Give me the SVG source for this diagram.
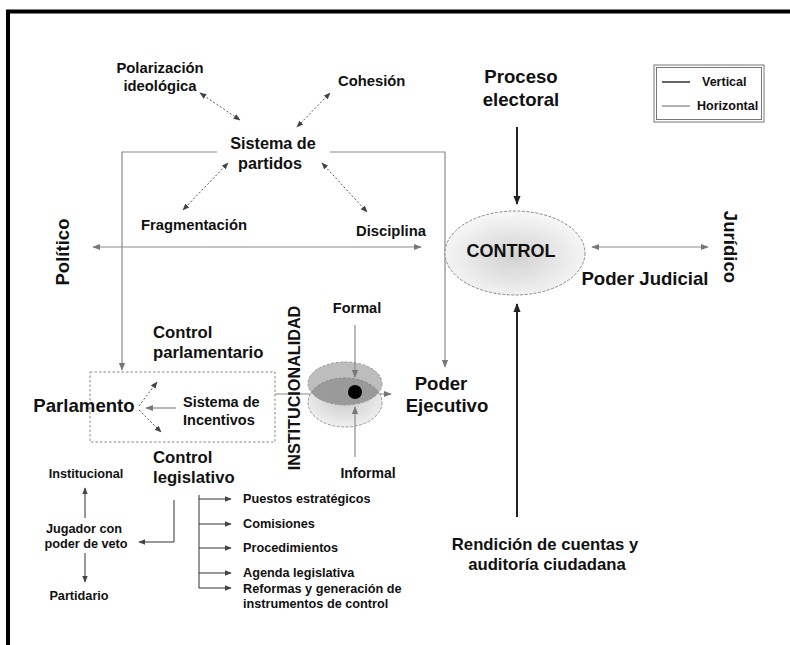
<svg xmlns="http://www.w3.org/2000/svg" width="790" height="645" viewBox="0 0 790 645">
  <style>
    text { font-family: "Liberation Sans", Arial, sans-serif; font-weight: bold; fill: #111; }
    .lg { font-size: 18.6px; }
    .md { font-size: 16.7px; }
    .sm { font-size: 14.8px; }
    .xs { font-size: 12.7px; }
    .grey { stroke: #8a8a8a; stroke-width: 1.2; fill: none; }
    .dark { stroke: #222; stroke-width: 2; fill: none; }
    .thin { stroke: #333; stroke-width: 1; fill: none; }
    .dot { stroke: #555; stroke-width: 1; stroke-dasharray: 2 2; fill: none; }
  </style>
  <defs>
    <marker id="ag" viewBox="0 0 10 10" refX="9" refY="5" markerWidth="8" markerHeight="8" markerUnits="userSpaceOnUse" orient="auto-start-reverse">
      <path d="M0,1 L10,5 L0,9 z" fill="#777"/>
    </marker>
    <marker id="ak" viewBox="0 0 10 10" refX="9" refY="5" markerWidth="9" markerHeight="9" markerUnits="userSpaceOnUse" orient="auto-start-reverse">
      <path d="M0,1 L10,5 L0,9 z" fill="#222"/>
    </marker>
    <marker id="ad" viewBox="0 0 10 10" refX="9" refY="5" markerWidth="7" markerHeight="7" markerUnits="userSpaceOnUse" orient="auto-start-reverse">
      <path d="M0,1 L10,5 L0,9 z" fill="#444"/>
    </marker>
    <radialGradient id="ctrlFill" cx="0.5" cy="0.55" r="0.55">
      <stop offset="0" stop-color="#d2d2d2"/>
      <stop offset="1" stop-color="#f8f8f8"/>
    </radialGradient>
    <radialGradient id="lowFill" cx="0.5" cy="0.4" r="0.6">
      <stop offset="0" stop-color="#c8c8c8"/>
      <stop offset="1" stop-color="#f0f0f0"/>
    </radialGradient>
    <clipPath id="upperClip">
      <ellipse cx="345" cy="383.5" rx="37" ry="21.5"/>
    </clipPath>
  </defs>

  <!-- frame -->
  <line x1="6" y1="11.5" x2="790" y2="11.5" stroke="#000" stroke-width="4"/>
  <line x1="8" y1="10" x2="8" y2="645" stroke="#000" stroke-width="4"/>

  <!-- legend -->
  <g id="legend">
    <rect x="654" y="65" width="110" height="57" fill="#fff" stroke="#777" stroke-width="1"/>
    <rect x="656.5" y="67.5" width="105" height="52" fill="none" stroke="#777" stroke-width="1"/>
    <line x1="662" y1="82" x2="690" y2="82" stroke="#111" stroke-width="1.3"/>
    <line x1="662" y1="106" x2="690" y2="106" stroke="#888" stroke-width="1.3"/>
    <text x="702" y="86" font-size="12.5">Vertical</text>
    <text x="697" y="110" font-size="12.5">Horizontal</text>
  </g>

  <!-- connectors -->
  <g id="connectors">
    <!-- party system feeds -->
    <polyline class="grey" points="217,152 122,152 122,370" marker-end="url(#ag)"/>
    <polyline class="grey" points="330,152 445,152 445,367" marker-end="url(#ag)"/>
    <!-- political axis -->
    <line class="grey" x1="93" y1="247" x2="421" y2="247" marker-start="url(#ag)" marker-end="url(#ag)"/>
    <!-- judicial axis -->
    <line class="grey" x1="592" y1="247" x2="708" y2="247" marker-start="url(#ag)" marker-end="url(#ag)"/>
    <!-- dotted relations around the party system -->
    <line class="dot" x1="200" y1="93" x2="240" y2="120" marker-start="url(#ad)" marker-end="url(#ad)"/>
    <line class="dot" x1="330" y1="93" x2="297" y2="127" marker-start="url(#ad)" marker-end="url(#ad)"/>
    <line class="dot" x1="228" y1="163" x2="183" y2="210" marker-start="url(#ad)" marker-end="url(#ad)"/>
    <line class="dot" x1="322" y1="163" x2="367" y2="212" marker-start="url(#ad)" marker-end="url(#ad)"/>
    <!-- vertical control -->
    <line class="dark" x1="517" y1="127" x2="517" y2="204" marker-end="url(#ak)"/>
    <line class="dark" x1="517" y1="517" x2="517" y2="304" marker-end="url(#ak)"/>
    <!-- parliament internals -->
    <line class="dot" x1="139" y1="406" x2="157" y2="382" marker-end="url(#ad)"/>
    <line class="dot" x1="139" y1="410" x2="161" y2="432" marker-end="url(#ad)"/>
    <line class="grey" x1="176" y1="408" x2="146" y2="408" marker-end="url(#ag)"/>
    <!-- institutionality axis -->
    <line class="grey" x1="275" y1="394" x2="391" y2="394" marker-end="url(#ag)"/>
    <!-- legislative control tree -->
    <polyline class="thin" points="174,500 174,542 139,542" marker-end="url(#ad)"/>
    <line class="thin" x1="199" y1="495" x2="199" y2="588"/>
    <line class="thin" x1="199" y1="499" x2="231" y2="499" marker-end="url(#ad)"/>
    <line class="thin" x1="199" y1="524" x2="231" y2="524" marker-end="url(#ad)"/>
    <line class="thin" x1="199" y1="548" x2="231" y2="548" marker-end="url(#ad)"/>
    <line class="thin" x1="199" y1="573" x2="231" y2="573" marker-end="url(#ad)"/>
    <line class="thin" x1="199" y1="588" x2="231" y2="588" marker-end="url(#ad)"/>
    <line class="thin" x1="85" y1="518" x2="85" y2="488" marker-end="url(#ad)"/>
    <line class="thin" x1="85" y1="553" x2="85" y2="582" marker-end="url(#ad)"/>
  </g>

  <!-- nodes -->
  <g id="polarizacion">
    <text class="sm" x="160" y="73" text-anchor="middle">Polarización</text>
    <text class="sm" x="160" y="91" text-anchor="middle">ideológica</text>
  </g>
  <g id="cohesion"><text class="sm" x="338" y="86">Cohesión</text></g>
  <g id="sistema-partidos">
    <text x="273" y="149" text-anchor="middle" font-size="16.2">Sistema de</text>
    <text x="270" y="168.5" text-anchor="middle" font-size="16.2">partidos</text>
  </g>
  <g id="fragmentacion"><text class="sm" x="194" y="230" text-anchor="middle">Fragmentación</text></g>
  <g id="disciplina"><text class="sm" x="356" y="236">Disciplina</text></g>
  <g id="politico"><text class="lg" transform="translate(69,252) rotate(-90)" text-anchor="middle">Político</text></g>

  <g id="proceso-electoral">
    <text class="lg" x="521" y="83" text-anchor="middle">Proceso</text>
    <text class="lg" x="521" y="106" text-anchor="middle">electoral</text>
  </g>

  <g id="control">
    <ellipse cx="515" cy="253" rx="70" ry="42" fill="url(#ctrlFill)" stroke="#888" stroke-width="1" stroke-dasharray="3 1.5"/>
    <text x="511" y="257" text-anchor="middle" font-size="18">CONTROL</text>
  </g>
  <g id="poder-judicial"><text class="lg" x="645" y="285" text-anchor="middle">Poder Judicial</text></g>
  <g id="juridico"><text class="lg" transform="translate(724,247) rotate(90)" text-anchor="middle">Jurídico</text></g>

  <g id="control-parlamentario">
    <text class="md" x="153" y="338">Control</text>
    <text class="md" x="153" y="358">parlamentario</text>
  </g>
  <g id="parlamento">
    <rect x="90" y="372" width="185" height="70" fill="none" stroke="#888" stroke-width="1" stroke-dasharray="2.5 2"/>
    <text class="lg" x="84" y="412" text-anchor="middle">Parlamento</text>
  </g>
  <g id="sistema-incentivos">
    <text x="183" y="407" font-size="14.5">Sistema de</text>
    <text x="183" y="425" font-size="14.5">Incentivos</text>
  </g>

  <g id="institucionalidad"><text transform="translate(300,388) rotate(-90)" text-anchor="middle" font-size="16.2">INSTITUCIONALIDAD</text></g>

  <g id="nucleo">
    <ellipse cx="345" cy="402.5" rx="37" ry="24.5" fill="url(#lowFill)" stroke="#999" stroke-width="1" stroke-dasharray="3 1.5"/>
    <ellipse cx="345" cy="383.5" rx="37" ry="21.5" fill="#bdbdbd" stroke="#999" stroke-width="1" stroke-dasharray="3 1.5"/>
    <ellipse cx="345" cy="402.5" rx="37" ry="24.5" fill="#9a9a9a" stroke="#888" stroke-width="1" stroke-dasharray="3 1.5" clip-path="url(#upperClip)"/>
    <line class="grey" x1="355" y1="325" x2="355" y2="377" marker-end="url(#ag)"/>
    <line class="grey" x1="355" y1="457" x2="355" y2="407" marker-end="url(#ag)"/>
    <circle cx="355" cy="392" r="7" fill="#000"/>
  </g>
  <g id="formal"><text x="357" y="313" text-anchor="middle" font-size="14.5">Formal</text></g>
  <g id="informal"><text x="368" y="478" text-anchor="middle" font-size="14">Informal</text></g>

  <g id="poder-ejecutivo">
    <text class="lg" x="441" y="390" text-anchor="middle">Poder</text>
    <text class="lg" x="447" y="412" text-anchor="middle">Ejecutivo</text>
  </g>

  <g id="rendicion">
    <text class="md" x="545" y="550" text-anchor="middle">Rendición de cuentas y</text>
    <text class="md" x="547" y="570" text-anchor="middle">auditoría ciudadana</text>
  </g>

  <g id="control-legislativo">
    <text class="md" x="153" y="463">Control</text>
    <text class="md" x="153" y="483">legislativo</text>
  </g>
  <g id="institucional"><text class="xs" x="86" y="478" text-anchor="middle">Institucional</text></g>
  <g id="jugador-veto">
    <text class="xs" x="84" y="533" text-anchor="middle">Jugador con</text>
    <text class="xs" x="86" y="548" text-anchor="middle">poder de veto</text>
  </g>
  <g id="partidario"><text class="xs" x="79" y="600" text-anchor="middle">Partidario</text></g>

  <g id="puestos"><text class="xs" x="243" y="503">Puestos estratégicos</text></g>
  <g id="comisiones"><text class="xs" x="243" y="528">Comisiones</text></g>
  <g id="procedimientos"><text class="xs" x="243" y="552">Procedimientos</text></g>
  <g id="agenda"><text class="xs" x="243" y="577">Agenda legislativa</text></g>
  <g id="reformas">
    <text class="xs" x="243" y="593">Reformas y generación de</text>
    <text class="xs" x="243" y="608">instrumentos de control</text>
  </g>
</svg>
